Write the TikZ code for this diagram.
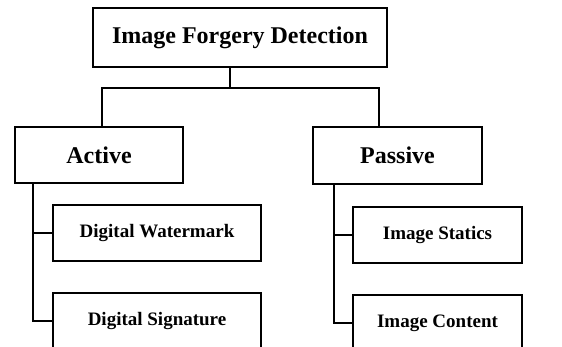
\documentclass[tikz,border=0pt]{standalone}
\usepackage{fontspec}
\setmainfont{Liberation Serif}
\tikzset{
    box/.style={draw,line width=1.2pt,font=\bfseries\fontsize{24}{28}\selectfont,inner sep=0pt},
    subbox/.style={box,font=\bfseries\fontsize{19}{22}\selectfont},
    link/.style={line width=1.8pt}
}
\begin{document}
\begin{tikzpicture}[x=1pt,y=-1pt]
                \clip (0,0) rectangle (562,347);
                \node[box,minimum width=294pt,minimum height=59pt] (root) at (240,37.5) {Image Forgery Detection};
                \node[box,minimum width=168pt,minimum height=56pt] (active) at (99,155) {Active};
                \node[box,minimum width=169pt,minimum height=57pt] (passive) at (397.5,155.5) {Passive};
                \node[subbox,minimum width=208pt,minimum height=56pt] (wm) at (157,233) {Digital Watermark};
                \node[subbox,minimum width=208pt,minimum height=56pt] (sig) at (157,321) {Digital Signature};
                \node[subbox,minimum width=169pt,minimum height=56pt] (stat) at (437.5,235) {Image Statics};
                \node[subbox,minimum width=169pt,minimum height=56pt] (cont) at (437.5,323) {Image Content};
                \coordinate (split) at (230,88);
                \coordinate (jl) at (102,88);
                \coordinate (jr) at (379,88);
                \coordinate (al) at (33,184);
                \coordinate (pl) at (334,184);
                \draw[link] (split |- root.south) -- (split);
                \draw[link] (jl |- active.north) -- (jl) -- (jr) -- (jr |- passive.north);
                \draw[link] (al |- active.south) -- (al |- sig.west) -- (sig.west);
                \draw[link] (al |- wm.west) -- (wm.west);
                \draw[link] (pl |- passive.south) -- (pl |- cont.west) -- (cont.west);
                \draw[link] (pl |- stat.west) -- (stat.west);
            \end{tikzpicture}
\end{document}
